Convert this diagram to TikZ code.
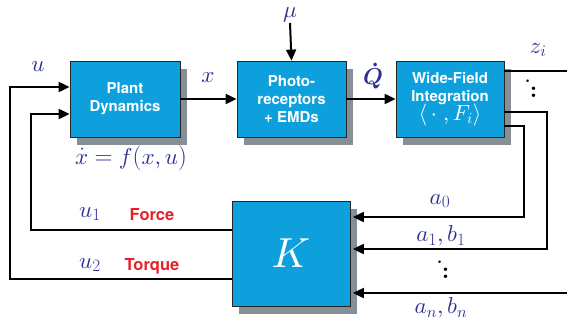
\documentclass[tikz,border=0pt]{standalone}
\usepackage{fontspec}
\DeclareFontShape{OML}{cmm}{m}{it}{<->cmmi10}{}
\DeclareFontShape{OML}{cmm}{b}{it}{<->cmmib10}{}
\DeclareFontShape{OMS}{cmsy}{m}{n}{<->cmsy10}{}
\DeclareFontShape{OMS}{cmsy}{b}{n}{<->cmbsy10}{}
\DeclareFontShape{OMX}{cmex}{m}{n}{<->cmex10}{}
\newfontfamily\boxfont{TeX Gyre Heros}
\newcommand\skewdots{\vbox{\baselineskip=7.5pt\lineskiplimit=0pt\lineskip=0pt
  \hbox{\fontsize{18}{18}\selectfont.}\hbox{\kern5pt.}\hbox{\kern5pt.}}}
\usetikzlibrary{arrows.meta,shadows}
\definecolor{boxblue}{RGB}{14,160,220}
\definecolor{shadowgray}{RGB}{134,142,150}
\definecolor{mathblue}{RGB}{46,49,146}
\definecolor{labelred}{RGB}{232,32,42}
\begin{document}
\begin{tikzpicture}[x=1pt,y=-1pt,
  blockbox/.style={draw=black!85, line width=0.8pt, fill=boxblue, text=white,
    font=\boxfont\bfseries\fontsize{15}{18}\selectfont, align=center, inner sep=0pt,
    drop shadow={shadow xshift=7pt,shadow yshift=-8pt,fill=shadowgray,opacity=1}},
  conn/.style={line width=2pt, black},
  arr/.style={conn, -{Triangle[length=11pt,width=10pt]}},
  mlab/.style={text=mathblue, font=\fontsize{23}{27}\selectfont, inner sep=0pt},
  rlab/.style={text=labelred, font=\boxfont\bfseries\fontsize{16.5}{19}\selectfont, inner sep=0pt},
  dotlab/.style={text=black, font=\fontsize{24}{24}\selectfont\bfseries, inner sep=0pt}]
\useasboundingbox (0,0) rectangle (567,325);

% blocks
\node[blockbox, minimum width=110pt, minimum height=76pt] (plant) at (125,99) {Plant\\Dynamics};
\node[blockbox, minimum width=109pt, minimum height=76pt] (photo) at (291.5,99) {Photo-\\receptors\\+ EMDs};
\node[blockbox, minimum width=108pt, minimum height=76pt] (wfi) at (450,99)
  {Wide-Field\\Integration\\[-2pt]{\normalfont\fontsize{22}{22}\selectfont$\langle\,\cdot\;,F_i\rangle$}};
\node[blockbox, minimum width=118pt, minimum height=105pt, font=\fontsize{42}{44}\selectfont] (K) at (291,253.5) {$K$};

% coordinates
\coordinate (mu) at (290,23);
\coordinate (zend) at (567,71);
\coordinate (c1) at (547,112);
\coordinate (c0) at (524,126);
\coordinate (anstart) at (567,293);
\coordinate (ltor) at (10,279);
\coordinate (lfor) at (31,230);

% connectors
\draw[arr] (plant.east) -- (photo.west);
\draw[arr] (mu) -- (photo.north);
\draw[arr] (photo.east) -- (wfi.west);
\draw[conn] ([yshift=28pt]wfi.east) -- (zend);
\draw[arr] ([yshift=-13pt]wfi.east) -- (c1) |- ([yshift=4.5pt,xshift=2.5pt]K.east);
\draw[arr] ([yshift=-27pt]wfi.east) -- (c0) |- ([yshift=36.5pt,xshift=2.5pt]K.east);
\draw[arr] (anstart) -- ([yshift=-39.5pt,xshift=2.5pt]K.east);
\draw[arr] ([yshift=-25.5pt]K.west) -- (ltor) |- ([yshift=12pt]plant.west);
\draw[arr] ([yshift=23.5pt]K.west) -- (lfor) |- ([yshift=-15pt]plant.west);

% labels
\node[mlab] (lu) at (38,67) {$u$};
\node[mlab] (lx) at (208,78) {$x$};
\node[mlab] (lmu) at (290,15) {$\mu$};
\node[mlab, font=\fontsize{23}{27}\selectfont\boldmath] (lq) at (373,76) {$\dot{Q}$};
\node[mlab] (lz) at (538,50) {$z_i$};
\node[mlab] (leq) at (131,158) {$\dot{x}=f(x,u)$};
\node[mlab] (lu1) at (90,214) {$u_1$};
\node[rlab] (lforce) at (152,215) {Force};
\node[mlab] (lu2) at (90,265) {$u_2$};
\node[rlab] (ltorque) at (152,266) {Torque};
\node[mlab] (la0) at (440,201) {$a_0$};
\node[mlab] (la1) at (441,236) {$a_1,b_1$};
\node[mlab] (lan) at (441,308) {$a_n,b_n$};
\node[dotlab] (d1) at (531,89) {\skewdots};
\node[dotlab] (d2) at (443,270) {\skewdots};
\end{tikzpicture}
\end{document}
